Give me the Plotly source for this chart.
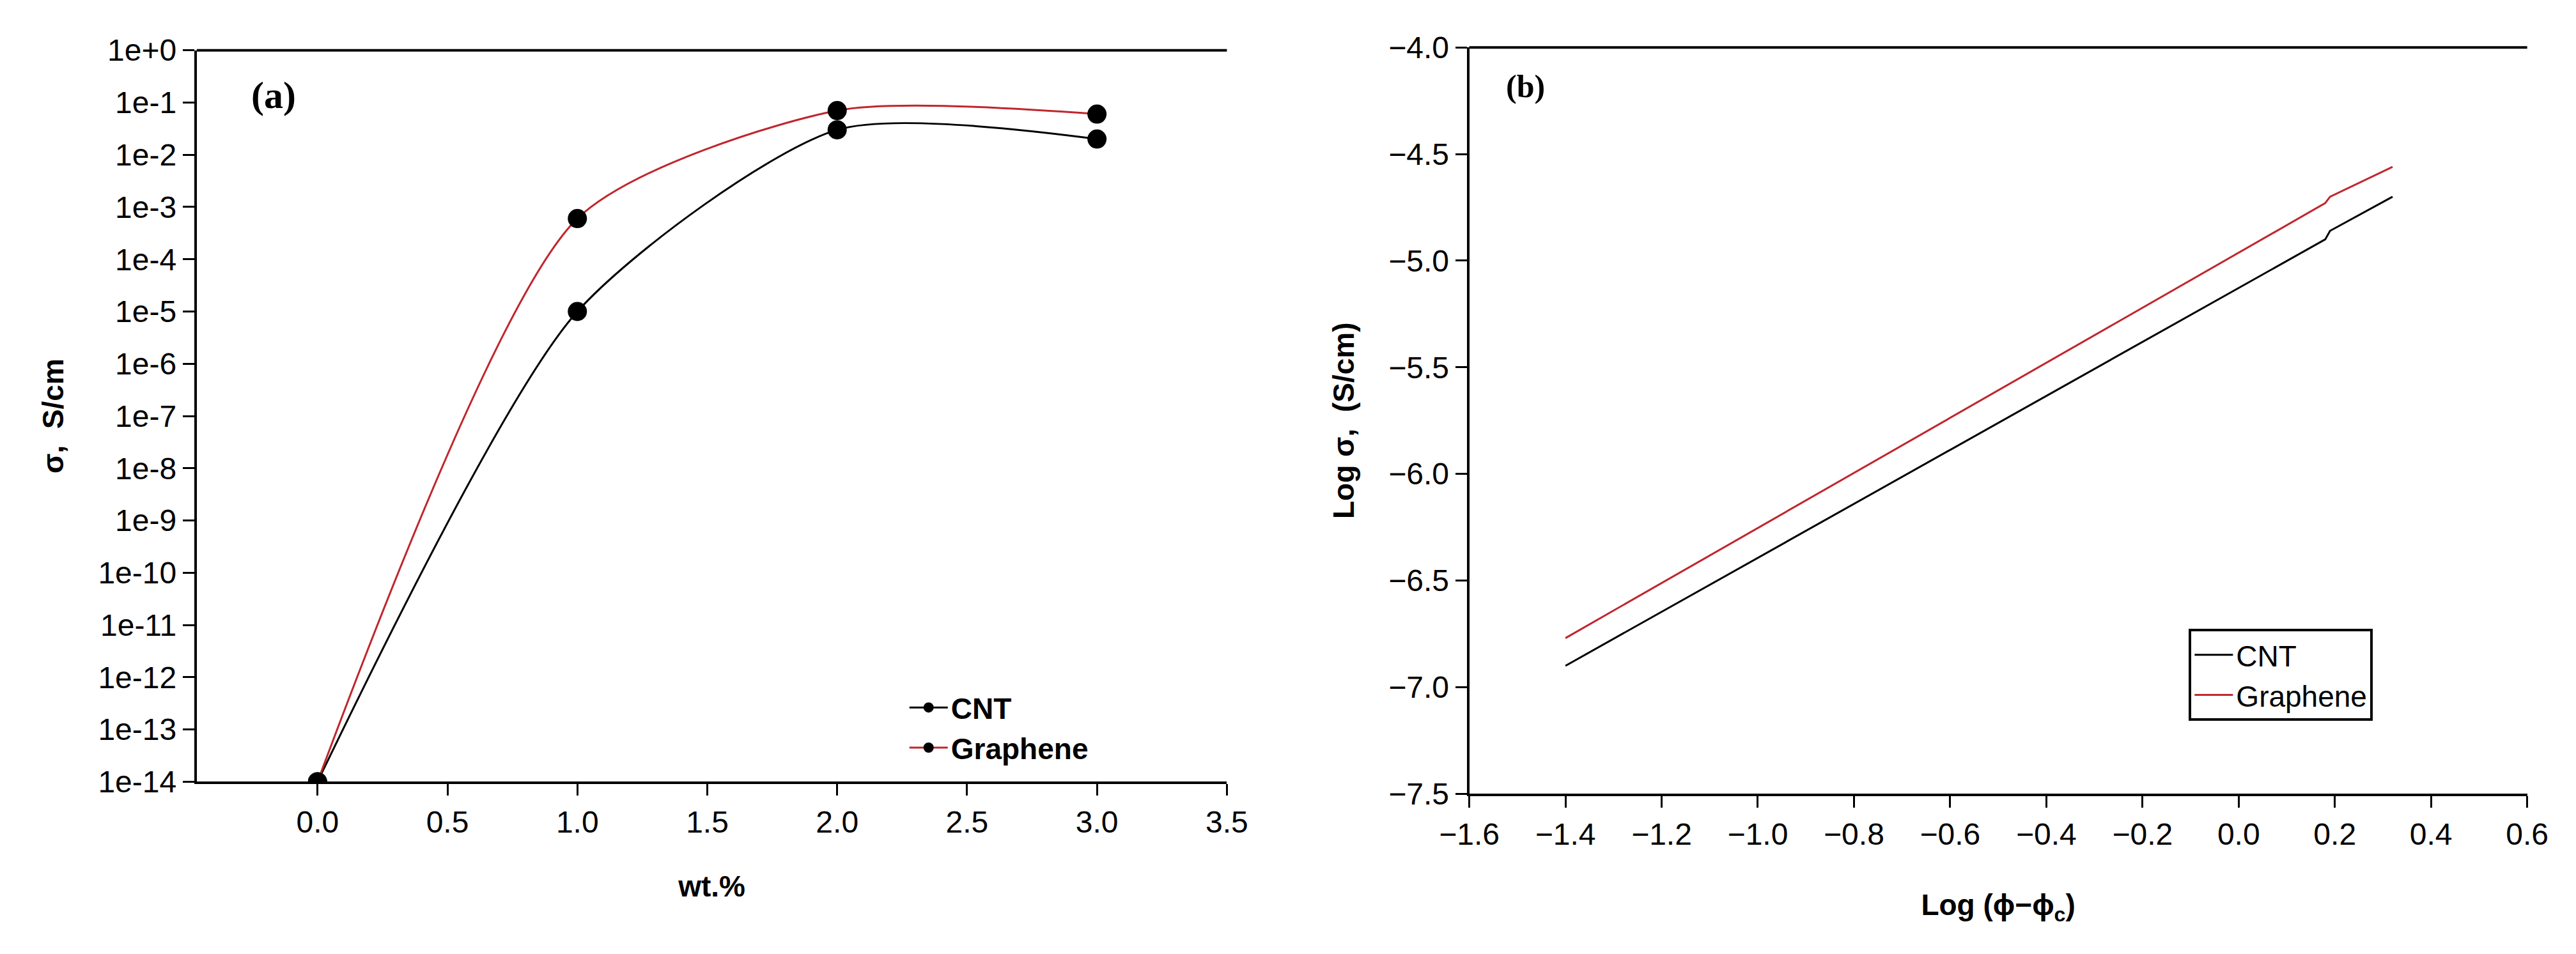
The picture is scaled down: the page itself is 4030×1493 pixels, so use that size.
import plotly.graph_objects as go

# --- data: panel (a) conductivity vs filler loading ---
wt = [0.0, 1.0, 2.0, 3.0]
sigma_cnt = [1e-14, 1e-5, 3e-2, 2e-2]
sigma_graphene = [1e-14, 6e-4, 7e-2, 6e-2]

# --- data: panel (b) percolation scaling fit ---
log_phi_cnt = [-1.4, 0.18, 0.19, 0.32]
log_sigma_cnt = [-6.9, -4.90, -4.86, -4.70]
log_phi_graphene = [-1.4, 0.18, 0.19, 0.32]
log_sigma_graphene = [-6.77, -4.73, -4.70, -4.56]

y_ticks_a = [10.0 ** (-k) for k in range(0, 15)]
y_labels_a = ["1e+0"] + [f"1e-{k}" for k in range(1, 15)]

FONT = "Liberation Sans Narrow, Arial Narrow, Liberation Sans, Arial"
tick_font = dict(family=FONT, size=48, color="black")
title_font = dict(family="Liberation Sans, Arial", size=46, color="black")

fig = go.Figure()

# panel (a): smooth curves through the measured points
fig.add_trace(go.Scatter(
    x=wt, y=sigma_cnt, name="<b>CNT</b>", mode="lines+markers",
    line=dict(color="black", width=3, shape="spline", smoothing=0.7),
    marker=dict(color="black", size=30, symbol="circle"),
    xaxis="x", yaxis="y", legend="legend"
))
fig.add_trace(go.Scatter(
    x=wt, y=sigma_graphene, name="<b>Graphene</b>", mode="lines+markers",
    line=dict(color="#c0262d", width=3, shape="spline", smoothing=0.7),
    marker=dict(color="black", size=30, symbol="circle"),
    xaxis="x", yaxis="y", legend="legend"
))

# panel (b): straight-line fits
fig.add_trace(go.Scatter(
    x=log_phi_cnt, y=log_sigma_cnt, name="CNT", mode="lines",
    line=dict(color="black", width=3),
    xaxis="x2", yaxis="y2", legend="legend2"
))
fig.add_trace(go.Scatter(
    x=log_phi_graphene, y=log_sigma_graphene, name="Graphene", mode="lines",
    line=dict(color="#c0262d", width=3),
    xaxis="x2", yaxis="y2", legend="legend2"
))

axis_common = dict(
    showline=True, linecolor="black", linewidth=4, showgrid=False,
    zeroline=False, ticks="outside", ticklen=18, tickwidth=3,
    tickcolor="black", tickfont=tick_font
)

fig.update_layout(
    width=4030, height=1493,
    paper_bgcolor="white", plot_bgcolor="white",
    margin=dict(l=0, r=0, t=0, b=0),
    xaxis=dict(
        **axis_common, domain=[0.064, 0.472], range=[-0.465, 3.5],
        tickvals=[0, 0.5, 1, 1.5, 2, 2.5, 3, 3.5], tickformat=".1f",
        mirror=False, anchor="y",
        title=dict(text="<b>wt.%</b>", font=title_font, standoff=60)
    ),
    yaxis=dict(
        **axis_common, type="log", domain=[0.174, 0.969],
        range=[-14, 0], tickvals=y_ticks_a, ticktext=y_labels_a,
        anchor="x",
        title=dict(text="<b>σ,  S/cm</b>", font=title_font, standoff=40)
    ),
    xaxis2=dict(
        **axis_common, domain=[0.568, 0.987], range=[-1.6, 0.6],
        dtick=0.2, tickformat=".1f", anchor="y2",
        title=dict(text="<b>Log (ϕ−ϕ<sub>c</sub>)</b>", font=title_font, standoff=70)
    ),
    yaxis2=dict(
        **axis_common, domain=[0.161, 0.972], range=[-7.5, -4.0],
        dtick=0.5, tickformat=".1f", anchor="x2",
        title=dict(text="<b>Log σ,  (S/cm)</b>", font=title_font, standoff=40)
    ),
    legend=dict(
        x=0.345, y=0.28, xanchor="left", yanchor="top",
        bgcolor="rgba(0,0,0,0)", borderwidth=0,
        font=dict(family=FONT, size=46, color="black"),
        itemwidth=60, tracegroupgap=10
    ),
    legend2=dict(
        x=0.853, y=0.34, xanchor="left", yanchor="top",
        bgcolor="white", bordercolor="black", borderwidth=4,
        font=dict(family=FONT, size=46, color="black"),
        itemwidth=60
    ),
    showlegend=True,
)

# top border lines for each panel
for xd, yd in [((0.064, 0.472), 0.969), ((0.568, 0.987), 0.972)]:
    fig.add_shape(type="line", xref="paper", yref="paper",
                  x0=xd[0], x1=xd[1], y0=yd, y1=yd,
                  line=dict(color="black", width=4))

# panel labels
fig.add_annotation(text="<b>(a)</b>", xref="paper", yref="paper",
                   x=0.085, y=0.92, xanchor="left", yanchor="middle",
                   showarrow=False,
                   font=dict(family="Liberation Serif, Times New Roman", size=60, color="black"))
fig.add_annotation(text="<b>(b)</b>", xref="paper", yref="paper",
                   x=0.582, y=0.93, xanchor="left", yanchor="middle",
                   showarrow=False,
                   font=dict(family="Liberation Serif, Times New Roman", size=50, color="black"))

fig.write_html("out.html")
